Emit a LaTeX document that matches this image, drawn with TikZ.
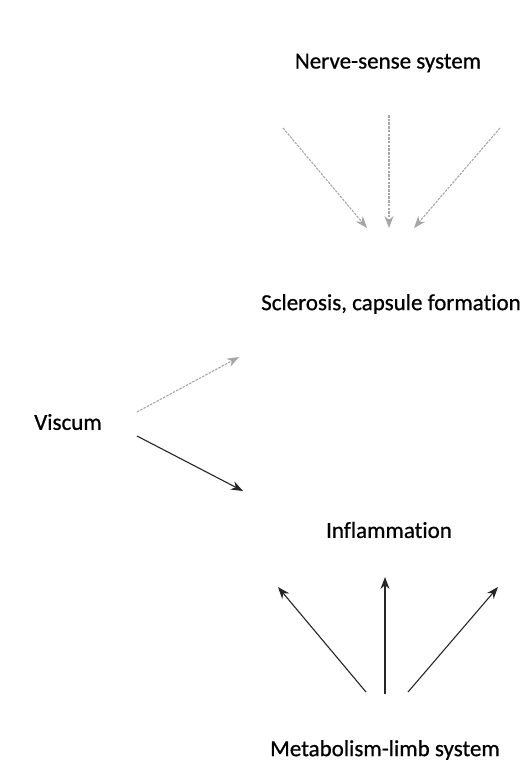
\documentclass[tikz,border=0pt]{standalone}
\usepackage{fontspec}
\setmainfont{Carlito}
\newfontfamily\lblfont{Carlito}[FakeBold=0.7,Ligatures=NoCommon]
\usetikzlibrary{arrows.meta}
\begin{document}
\begin{tikzpicture}[x=1pt,y=-1pt,
  lbl/.style={inner sep=0pt, font=\lblfont\fontsize{23}{26}\selectfont},
  soft/.style={draw=gray!70, line width=1.1pt, dash pattern=on 2.5pt off 1.2pt, -{Stealth[length=12pt,width=9pt]}},
  hard/.style={draw=black!85, line width=1.1pt, -{Stealth[length=12pt,width=9pt]}}]
\useasboundingbox[fill=white] (0,0) rectangle (526,769);
\node[lbl] (nerve) at (388,63) {Nerve-sense system};
\node[lbl] (scl) at (391,304) {Sclerosis, capsule formation};
\node[lbl] (visc) at (68,422) {Viscum};
\node[lbl] (infl) at (389,530) {Inflammation};
\node[lbl] (meta) at (385,750) {Metabolism-limb system};
% top arrows
\coordinate (t1s) at (283,128); \coordinate (t1e) at (367,228);
\coordinate (t2s) at (389,115); \coordinate (t2e) at (389,228);
\coordinate (t3s) at (500,128); \coordinate (t3e) at (414,228);
\draw[soft] (t1s) -- (t1e);
\draw[soft] (t2s) -- (t2e);
\draw[soft] (t3s) -- (t3e);
% viscum arrows
\coordinate (v1s) at (137,412); \coordinate (v1e) at (239,357);
\coordinate (v2s) at (137,436); \coordinate (v2e) at (243,491);
\draw[soft] (v1s) -- (v1e);
\draw[hard] (v2s) -- (v2e);
% bottom arrows
\coordinate (b1s) at (366,692); \coordinate (b1e) at (278,587);
\coordinate (b2s) at (385,694); \coordinate (b2e) at (385,577);
\coordinate (b3s) at (408,692); \coordinate (b3e) at (498,587);
\draw[hard] (b1s) -- (b1e);
\draw[hard] (b2s) -- (b2e);
\draw[hard] (b3s) -- (b3e);
\end{tikzpicture}
\end{document}
